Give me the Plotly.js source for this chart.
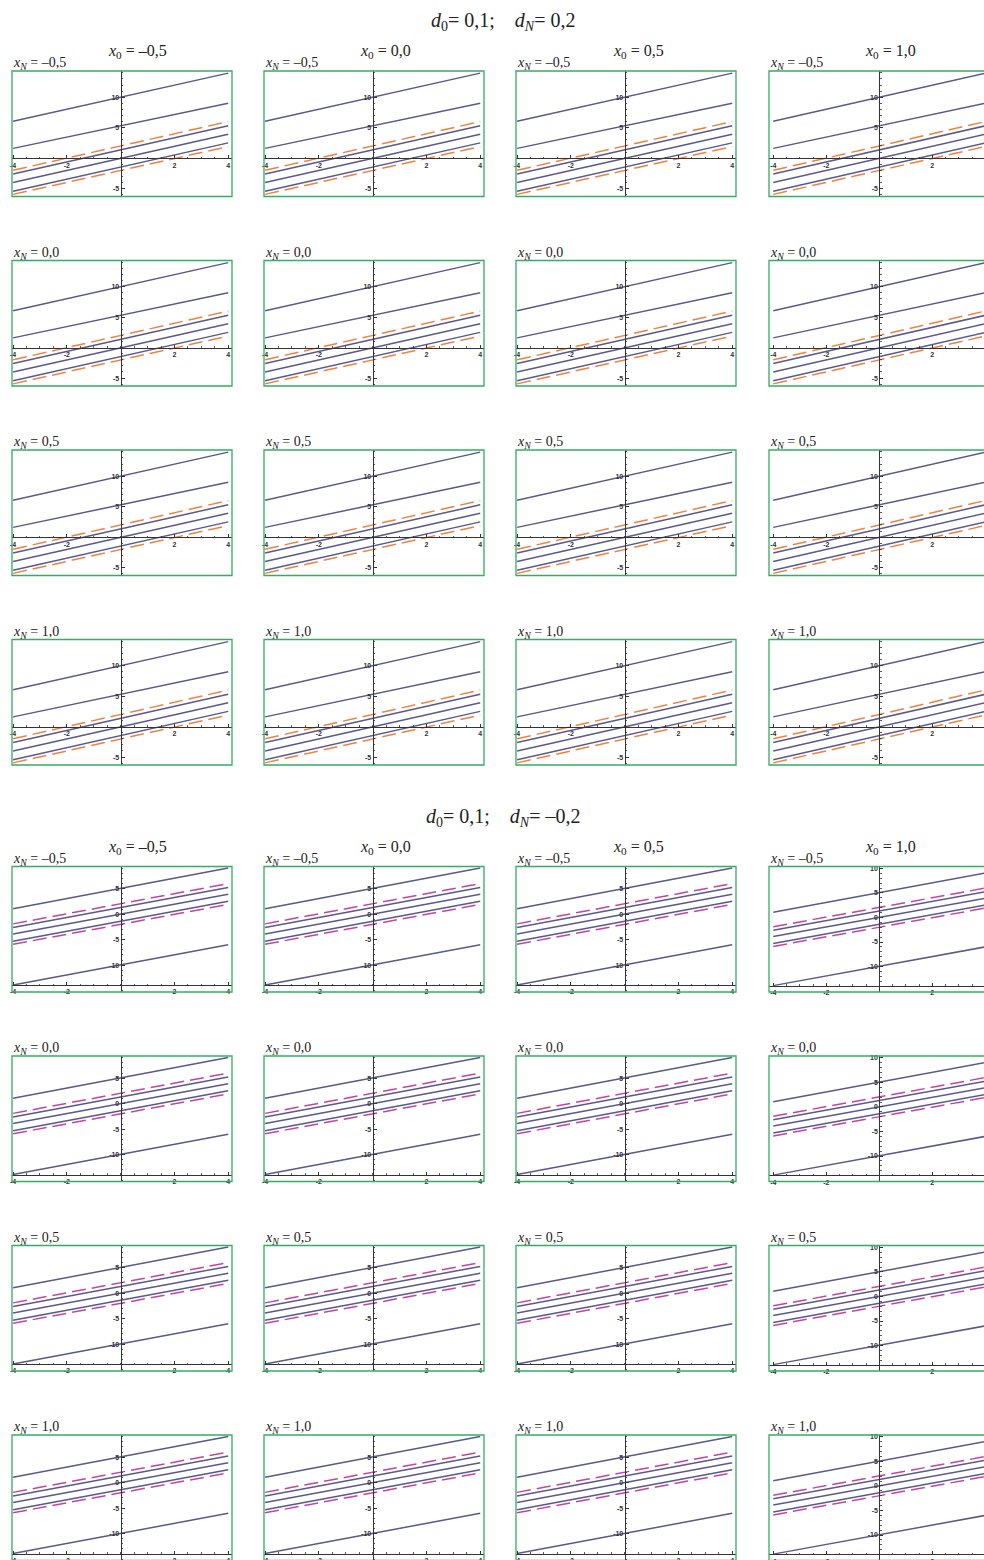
<!DOCTYPE html>
<html>
<head>
<meta charset="utf-8">
<script src="https://cdn.plot.ly/plotly-3.0.1.min.js"></script>
<style>
html,body{margin:0;padding:0;overflow:hidden;background:#fff;}
#chart{width:1000px;height:1570px;}
</style>
</head>
<body>
<div id="chart"></div>
<script>
// ---------------- data ----------------
const x0Labels = ["\u20130,5", "0,0", "0,5", "1,0"];
const xNLabels = ["\u20130,5", "0,0", "0,5", "1,0"];
const blockTitles = ["0,2", "\u20130,2"];     // d_N values per block
const d0Value = "0,1";
const xEnds = [-4, 4];

// block 1 (d_N = 0,2): values at x=-4 and x=4
const solidLeftA  = [6.05, 1.6, -2.6, -4.0, -5.45];
const solidRightA = [13.95, 9.0, 5.3, 3.93, 2.5];
const dashLeftA   = [-2.0, -5.95];
const dashRightA  = [6.0, 1.9];

// block 2 (d_N = -0,2)
const solidLeftB  = [1.05, -2.62, -3.9, -5.3, -13.9];
const solidRightB = [9.05, 5.25, 3.93, 2.55, -6.0];
const dashLeftB   = [-1.9, -5.9];
const dashRightB  = [6.0, 1.92];

const xTickVals = [-4, -2, 2, 4];
const xTickText = ["-4", "-2", "2", "4"];
const xTickValsEdge = [-4, -2, 2];
const xTickTextEdge = ["-4", "-2", "2"];
const yTickValsA = [-5, 5, 10];
const yTickTextA = ["-5", "5", "10"];
const yTickValsB = [-10, -5, 0, 5, 10];
const yTickTextB = ["-10", "-5", "0", "5", "10"];

// ---------------- layout geometry ----------------
const W = 1000, H = 1570;
const colLeft = [12, 264, 516, 769];
const panelW = 220;
const rowTop = [71, 260.5, 450, 639.5];
const panelH = 125.5;
const blockOffset = [0, 795.5];

const blocks = [
  {sl: solidLeftA, sr: solidRightA, dl: dashLeftA, dr: dashRightA, dashColor: '#f0823c',
   yr: [-6.3, 14.3], yr4: [-6.3, 14.3], xAxisAt: 0, ytv: yTickValsA, ytt: yTickTextA},
  {sl: solidLeftB, sr: solidRightB, dl: dashLeftB, dr: dashRightB, dashColor: '#c8449c',
   yr: [-15.26, 9.35], yr4: [-15.2, 10.4], xAxisAt: -13.9, ytv: yTickValsB, ytt: yTickTextB}
];

const solidColor = '#5a598a';
const frameColor = '#33ad63';
const axisColor = '#333333';

const traces = [];
const layout = {
  width: W, height: H,
  margin: {l: 0, r: 0, t: 0, b: 0},
  paper_bgcolor: '#fff', plot_bgcolor: 'rgba(0,0,0,0)',
  showlegend: false,
  shapes: [], annotations: []
};

const px2fx = p => p / W;
const py2fy = p => 1 - p / H;
const tickFont = {family: 'Liberation Sans, Arial, sans-serif', size: 7, color: '#333', weight: 'bold'};

let idx = 0;
for (let b = 0; b < 2; b++) {
  const B = blocks[b];
  for (let r = 0; r < 4; r++) {
    for (let c = 0; c < 4; c++) {
      idx++;
      const xa = 'x' + (idx === 1 ? '' : idx);
      const ya = 'y' + (idx === 1 ? '' : idx);
      const xKey = 'xaxis' + (idx === 1 ? '' : idx);
      const yKey = 'yaxis' + (idx === 1 ? '' : idx);
      const left = colLeft[c], top = rowTop[r] + blockOffset[b];
      const xd = [px2fx(left), px2fx(left + panelW)];
      const yd = [py2fy(top + panelH), py2fy(top)];
      const xr = c === 3 ? [-4.16, 4.14] : [-4.04, 4.14];
      const yr = c === 3 ? B.yr4 : B.yr;
      const yAxisPos = xd[0] + (0 - xr[0]) / (xr[1] - xr[0]) * (xd[1] - xd[0]);
      const xAxisPos = yd[0] + (B.xAxisAt - yr[0]) / (yr[1] - yr[0]) * (yd[1] - yd[0]);

      layout[xKey] = {
        domain: xd, range: xr, anchor: 'free', position: xAxisPos,
        showline: true, linecolor: axisColor, linewidth: 1,
        ticks: 'inside', ticklen: 3, tickwidth: 1, tickcolor: axisColor,
        tickmode: 'array',
        tickvals: c === 3 ? xTickValsEdge : xTickVals,
        ticktext: c === 3 ? xTickTextEdge : xTickText,
        tickfont: tickFont, showgrid: false, zeroline: false, automargin: false,
        fixedrange: true,
        minor: {ticks: 'inside', ticklen: 1.5, tickwidth: 0.8, tickcolor: axisColor,
                tickmode: 'linear', tick0: 0, dtick: 0.5, showgrid: false}
      };
      layout[yKey] = {
        domain: yd, range: yr, anchor: 'free', position: yAxisPos, side: 'left',
        showline: true, linecolor: axisColor, linewidth: 1,
        ticks: 'inside', ticklen: 3, tickwidth: 1, tickcolor: axisColor,
        tickmode: 'array', tickvals: B.ytv, ticktext: B.ytt,
        tickfont: tickFont, showgrid: false, zeroline: false, automargin: false,
        fixedrange: true,
        minor: {ticks: 'inside', ticklen: 1.5, tickwidth: 0.8, tickcolor: axisColor,
                tickmode: 'linear', tick0: 0, dtick: 1, showgrid: false}
      };

      for (let j = 0; j < B.sl.length; j++) {
        traces.push({type: 'scatter', mode: 'lines', x: xEnds, y: [B.sl[j], B.sr[j]],
          xaxis: xa, yaxis: ya, line: {color: solidColor, width: 1.5},
          hoverinfo: 'skip'});
      }
      for (let j = 0; j < B.dl.length; j++) {
        traces.push({type: 'scatter', mode: 'lines', x: xEnds, y: [B.dl[j], B.dr[j]],
          xaxis: xa, yaxis: ya, line: {color: B.dashColor, width: 1.5, dash: '14px,6px'},
          hoverinfo: 'skip'});
      }

      layout.shapes.push({type: 'rect', xref: xa + ' domain', yref: ya + ' domain',
        x0: 0, x1: 1, y0: 0, y1: 1, line: {color: frameColor, width: 1.3}, layer: 'above'});

      // row label
      layout.annotations.push({xref: 'paper', yref: 'paper', x: px2fx(left - 1), y: py2fy(top + 3),
        xanchor: 'left', yanchor: 'bottom', showarrow: false,
        text: '<i>x<sub>N</sub></i> = ' + xNLabels[r],
        font: {family: 'Liberation Serif, Times New Roman, serif', size: 14, color: '#222'}});
    }
  }
  // column labels
  const colCenters = [137, 385, 638, 890];
  for (let c = 0; c < 4; c++) {
    layout.annotations.push({xref: 'paper', yref: 'paper', x: px2fx(colCenters[c]), y: py2fy(52 + blockOffset[b]),
      xanchor: 'center', yanchor: 'middle', showarrow: false,
      text: '<i>x</i><sub>0</sub> = ' + x0Labels[c],
      font: {family: 'Liberation Serif, Times New Roman, serif', size: 16, color: '#222'}});
  }
  // block title
  layout.annotations.push({xref: 'paper', yref: 'paper', x: px2fx(503), y: py2fy(22 + blockOffset[b]),
    xanchor: 'center', yanchor: 'middle', showarrow: false,
    text: '<i>d</i><sub>0</sub>= ' + d0Value + ';\u00a0\u00a0\u00a0\u00a0<i>d<sub>N</sub></i>= ' + blockTitles[b],
    font: {family: 'Liberation Serif, Times New Roman, serif', size: 20, color: '#222'}});
}

Plotly.newPlot('chart', traces, layout, {staticPlot: true, displayModeBar: false});
</script>
</body>
</html>
